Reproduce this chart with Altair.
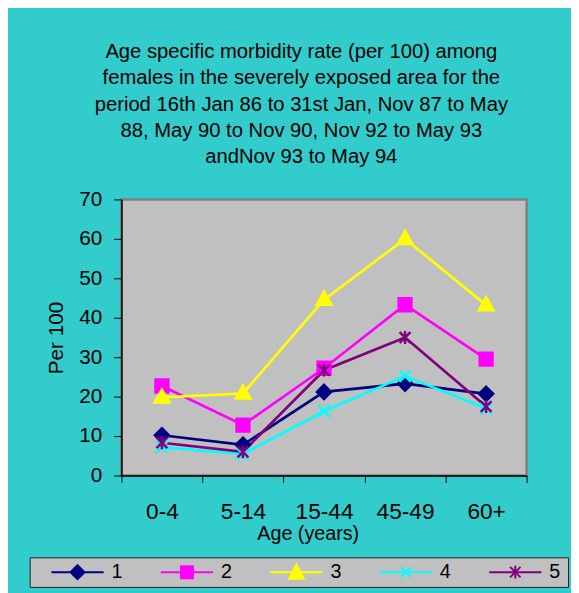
import altair as alt
import pandas as pd

ages = ["0-4", "5-14", "15-44", "45-49", "60+"]
series = ["1", "2", "3", "4", "5"]
s1 = [10.2, 7.8, 21.2, 23.3, 20.7]
s2 = [22.7, 12.8, 27.2, 43.3, 29.5]
s3 = [19.8, 20.8, 44.6, 60.0, 43.2]
s4 = [7.2, 5.4, 16.3, 25.2, 17.0]
s5 = [8.3, 6.0, 26.7, 35.0, 17.5]
colors = ["#000080", "#FF00FF", "#FFFF00", "#00FFFF", "#800080"]

rows = []
for name, vals in zip(series, [s1, s2, s3, s4, s5]):
    for a, v in zip(ages, vals):
        rows.append({"age": a, "series": name, "value": v})
df = pd.DataFrame(rows)

FONT = "Liberation Sans"

marker_paths = [
    "M0,-1.1L1.1,0L0,1.1L-1.1,0Z",
    "M-1,-1H1V1H-1Z",
    "M0,-1.25L1.15,0.8L-1.15,0.8Z",
    "M-0.9,-0.9L0.9,0.9M-0.9,0.9L0.9,-0.9",
    "M-0.85,-0.85L0.85,0.85M-0.85,0.85L0.85,-0.85M0,-1L0,1",
]
legend_paths = [
    "M-1,0L1,0M0,-0.27L0.27,0L0,0.27L-0.27,0Z",
    "M-1,0L1,0M-0.23,-0.23H0.23V0.23H-0.23Z",
    "M-1,0L1,0M0,-0.3L0.28,0.25L-0.28,0.25Z",
    "M-1,0L1,0M-0.2,-0.2L0.2,0.2M-0.2,0.2L0.2,-0.2",
    "M-1,0L1,0M-0.2,-0.2L0.2,0.2M-0.2,0.2L0.2,-0.2M0,-0.24L0,0.24",
]

x_enc = alt.X(
    "age:N",
    sort=ages,
    scale=alt.Scale(domain=ages, paddingInner=0, paddingOuter=0),
    axis=alt.Axis(
        title="Age (years)",
        titleFont=FONT, titleFontSize=20, titleFontWeight="normal", titleColor="#000",
        titleX=189, titleY=65, titleBaseline="alphabetic",
        labelFont=FONT, labelFontSize=23, labelColor="#000", labelPadding=19,
        labelAngle=0, tickBand="extent", tickSize=7, tickColor="#000",
        domainColor="#000", domainWidth=1.5, grid=False,
    ),
)
y_enc = alt.Y(
    "value:Q",
    scale=alt.Scale(domain=[0, 70], nice=False),
    axis=alt.Axis(
        title="Per 100", values=list(range(0, 71, 10)),
        titleFont=FONT, titleFontSize=21, titleFontWeight="normal", titleColor="#000",
        titlePadding=12,
        labelFont=FONT, labelFontSize=21, labelColor="#000", labelPadding=12,
        tickSize=8, tickColor="#000", domainColor="#000", domainWidth=1.5, grid=False,
    ),
)

lines = alt.Chart(df).mark_line(strokeWidth=2.7).encode(
    x=x_enc, y=y_enc,
    color=alt.Color("series:N", scale=alt.Scale(domain=series, range=colors), legend=None),
)

points = alt.Chart(df).mark_point(filled=True, size=169, strokeWidth=2.5, opacity=1).encode(
    x=x_enc, y=y_enc,
    color=alt.Color("series:N", scale=alt.Scale(domain=series, range=colors), legend=None),
    stroke=alt.Stroke("series:N", scale=alt.Scale(domain=series, range=colors), legend=None),
    shape=alt.Shape("series:N", scale=alt.Scale(domain=series, range=marker_paths), legend=None),
)

leg = alt.Legend(
    title="\u00a0", titleOrient="right", titlePadding=3,
    titleFont=FONT, titleFontSize=20,
    orient="none", direction="horizontal", columns=5,
    legendX=-93, legendY=363,
    symbolSize=2809, symbolStrokeWidth=2, symbolOffset=16, clipHeight=20,
    labelFont=FONT, labelFontSize=20, labelColor="#000", labelOffset=7,
    columnPadding=21, padding=5,
    fillColor="#C0C0C0", strokeColor="#222",
)

legend_layer = alt.Chart(df).mark_point(filled=True, opacity=1, strokeWidth=2).encode(
    x=x_enc, y=y_enc,
    color=alt.Color("series:N", scale=alt.Scale(domain=series, range=colors), legend=leg),
    stroke=alt.Stroke("series:N", scale=alt.Scale(domain=series, range=colors), legend=leg),
    shape=alt.Shape("series:N", scale=alt.Scale(domain=series, range=legend_paths), legend=leg),
).transform_filter("datum.value < -1")

chart = alt.layer(lines, points, legend_layer).resolve_scale(
    shape="independent", color="independent", stroke="independent"
).properties(
    width=411, height=280,
    autosize=alt.AutoSizeParams(type="none"),
    padding={"left": 115, "top": 190, "right": 45, "bottom": 115},
    background="#33CCCC",
    title=alt.Title(
        text=[
            "Age specific morbidity rate (per 100) among",
            "females in the severely exposed area for the",
            "period 16th Jan 86 to 31st Jan, Nov 87 to May",
            "88, May 90 to Nov 90, Nov 92 to May 93",
            "andNov 93 to May 94",
        ],
        font=FONT, fontSize=20.5, fontWeight="normal", color="#000",
        lineHeight=26.7, anchor="middle", frame="group", dx=-23, offset=21,
    ),
).configure_view(fill="#C0C0C0", stroke="#808080", strokeWidth=2.5)

chart.save("out.html", embed_options={"renderer": "svg", "actions": False})
